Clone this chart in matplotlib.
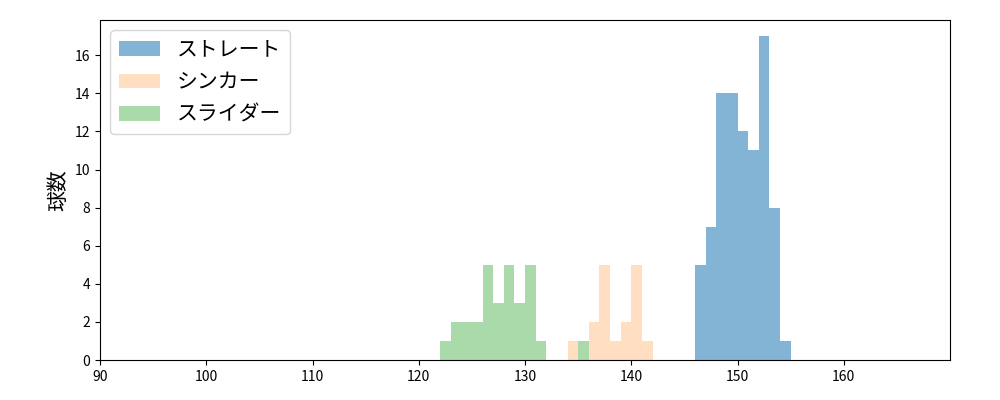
import matplotlib.pyplot as plt

plt.rcParams['font.family'] = ['Noto Sans CJK JP', 'DejaVu Sans']

straight_bins = [146, 147, 148, 149, 150, 151, 152, 153, 154]
straight_counts = [5, 7, 14, 14, 12, 11, 17, 8, 1]

sinker_bins = [134, 136, 137, 138, 139, 140, 141]
sinker_counts = [1, 2, 5, 1, 2, 5, 1]

slider_bins = [122, 123, 124, 125, 126, 127, 128, 129, 130, 131, 135]
slider_counts = [1, 2, 2, 2, 5, 3, 5, 3, 5, 1, 1]

fig = plt.figure(figsize=(10, 4), dpi=100)
ax = fig.add_axes([0.10, 0.10, 0.85, 0.85])

ax.bar(straight_bins, straight_counts, width=1, align='edge', color='tab:blue', alpha=0.55, label='ストレート')
ax.bar(sinker_bins, sinker_counts, width=1, align='edge', color='tab:orange', alpha=0.25, label='シンカー')
ax.bar(slider_bins, slider_counts, width=1, align='edge', color='tab:green', alpha=0.4, label='スライダー')

ax.set_xlim(90, 170)
ax.set_ylim(0, 17.85)
ax.set_xticks(range(90, 170, 10))
ax.set_yticks(range(0, 18, 2))
ax.set_ylabel('球数', fontsize=15)
ax.legend(loc='upper left', fontsize=15)

plt.savefig('out.png', dpi=100)
